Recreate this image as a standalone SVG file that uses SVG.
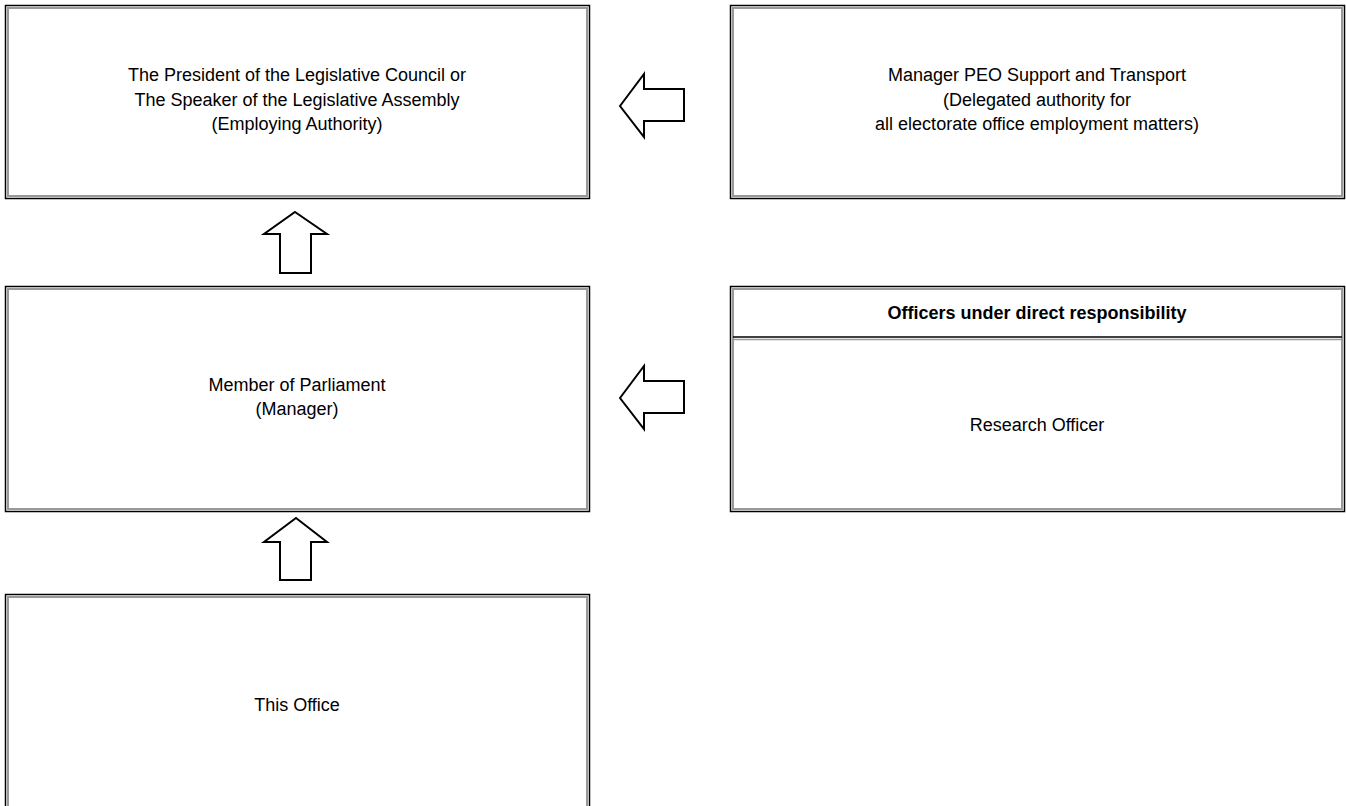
<svg xmlns="http://www.w3.org/2000/svg" width="1346" height="806" viewBox="0 0 1346 806">
<style>
.o{fill:#fff;stroke:#000;stroke-width:1.5}
.i{fill:none;stroke:#999;stroke-width:2}
.t{font-family:"Liberation Sans",Arial,sans-serif;font-size:18px;fill:#000;text-anchor:middle}
.b{font-weight:bold}
.a{fill:#fff;stroke:#000;stroke-width:2;stroke-linejoin:miter}
</style>
<rect width="1346" height="806" fill="#fff"/>
<g id="employing">
<rect class="o" x="5.5" y="5.5" width="584" height="193"/>
<rect class="i" x="8" y="8" width="579" height="188"/>
<text class="t" x="297" y="81">The President of the Legislative Council or</text>
<text class="t" x="297" y="106">The Speaker of the Legislative Assembly</text>
<text class="t" x="297" y="130">(Employing Authority)</text>
</g>
<g id="peo">
<rect class="o" x="730.5" y="5.5" width="614" height="193"/>
<rect class="i" x="733" y="8" width="609" height="188"/>
<text class="t" x="1037" y="81">Manager PEO Support and Transport</text>
<text class="t" x="1037" y="106">(Delegated authority for</text>
<text class="t" x="1037" y="130">all electorate office employment matters)</text>
</g>
<g id="member">
<rect class="o" x="5.5" y="286.5" width="584" height="225"/>
<rect class="i" x="8" y="289" width="579" height="220"/>
<text class="t" x="297" y="391">Member of Parliament</text>
<text class="t" x="297" y="415">(Manager)</text>
</g>
<g id="officers">
<rect class="o" x="730.5" y="286.5" width="614" height="225"/>
<rect class="i" x="733" y="289" width="609" height="220"/>
<line x1="733" y1="337" x2="1342" y2="337" stroke="#000" stroke-width="1.5"/>
<line x1="733" y1="339.5" x2="1342" y2="339.5" stroke="#999" stroke-width="1.5"/>
<text class="t b" x="1037" y="319">Officers under direct responsibility</text>
<text class="t" x="1037" y="431">Research Officer</text>
</g>
<g id="office">
<rect class="o" x="5.5" y="594.5" width="584" height="225"/>
<rect class="i" x="8" y="597" width="579" height="220"/>
<text class="t" x="297" y="711">This Office</text>
</g>
<g id="connectors">
<polygon class="a" points="620,106 644,74 644,89 684,89 684,121 644,121 644,137"/>
<polygon class="a" points="620,398 644,366 644,381 684,381 684,413 644,413 644,429"/>
<polygon class="a" points="295,212 327,234 311,234 311,273 280,273 280,234 264,234"/>
<polygon class="a" points="296,518 327,542 311,542 311,580 280,580 280,542 264,542"/>
</g>
</svg>
